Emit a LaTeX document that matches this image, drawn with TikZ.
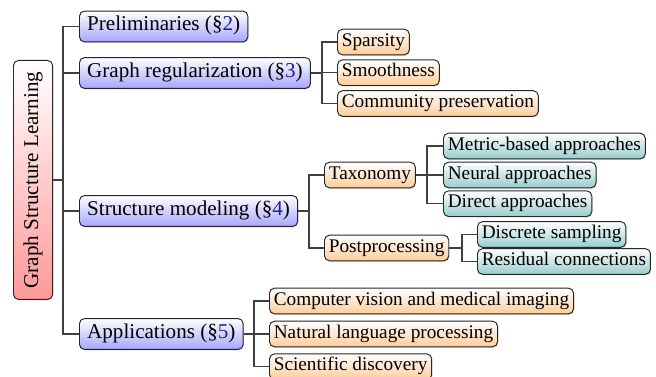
\documentclass[tikz,border=0pt]{standalone}
\usepackage{fontspec}
\setmainfont{Liberation Serif}
\usetikzlibrary{shadows}

\definecolor{linkblue}{rgb}{0.12,0.12,0.58}
\newcommand{\seclink}[1]{\textcolor{linkblue}{#1}}

\tikzset{
  box/.style={draw=black!85, line width=0.5pt, rounded corners=2.6pt,
    drop shadow={opacity=0.25, shadow xshift=0.4pt, shadow yshift=-0.6pt}},
  rootbox/.style={box, top color=white, bottom color=red!40, inner sep=0pt,
    minimum width=20.3pt, minimum height=124pt, font=\fontsize{10.95}{13}\selectfont},
  secbox/.style={box, top color=white, bottom color=blue!35, inner xsep=4pt, inner ysep=0pt,
    minimum height=16pt, text height=0.68em, text depth=0.24em, font=\fontsize{10.95}{13}\selectfont},
  subbox/.style={box, top color=white, bottom color=orange!40, inner xsep=2.25pt, inner ysep=0pt,
    minimum height=13.3pt, text height=0.68em, text depth=0.24em, font=\fontsize{10}{12}\selectfont},
  leafbox/.style={subbox, bottom color=teal!40},
  fork/.style={draw=black!75, line width=0.6pt},
}

\begin{document}
\begin{tikzpicture}[x=0.519pt,y=0.519pt,yscale=-1,xscale=1]
%set diagram left start at 0, and has height of 377
\useasboundingbox (0,0) rectangle (656,377);

% Root Node
\draw (13,60) node [anchor=north west][rootbox] (gsl) {\rotatebox{90}{Graph Structure Learning}};
% Section Nodes
\draw (79,26.5) node [anchor=west][secbox] (prel) {Preliminaries (\S\seclink{2})};
\draw (79,73) node [anchor=west][secbox] (greg) {Graph regularization (\S\seclink{3})};
\draw (79,211) node [anchor=west][secbox] (smod) {Structure modeling (\S\seclink{4})};
\draw (79,334) node [anchor=west][secbox] (appl) {Applications (\S\seclink{5})};
% Regularization Nodes
\draw (337,42) node [anchor=west][subbox] (spar) {Sparsity};
\draw (337,72.7) node [anchor=west][subbox] (smoo) {Smoothness};
\draw (337,103.5) node [anchor=west][subbox] (comm) {Community preservation};
% Modeling Nodes
\draw (324,175) node [anchor=west][subbox] (taxo) {Taxonomy};
\draw (324,248) node [anchor=west][subbox] (post) {Postprocessing};
\draw (443,146) node [anchor=west][leafbox] (metr) {Metric-based approaches};
\draw (443,175) node [anchor=west][leafbox] (neur) {Neural approaches};
\draw (443,203.7) node [anchor=west][leafbox] (dire) {Direct approaches};
\draw (477,234.5) node [anchor=west][leafbox] (disc) {Discrete sampling};
\draw (477,261.5) node [anchor=west][leafbox] (resi) {Residual connections};
% Application Nodes
\draw (269,301) node [anchor=west][subbox] (cvmi) {Computer vision and medical imaging};
\draw (269,334) node [anchor=west][subbox] (natl) {Natural language processing};
\draw (269,366.7) node [anchor=west][subbox] (scid) {Scientific discovery};

% Connection
\draw [fork] (gsl.east) -| ([xshift=-8.3pt]prel.west) -- (prel.west);
\draw [fork] (gsl.east) -| ([xshift=-8.3pt]greg.west) -- (greg.west);
\draw [fork] (gsl.east) -| ([xshift=-8.3pt]smod.west) -- (smod.west);
\draw [fork] (gsl.east) -| ([xshift=-8.3pt]appl.west) -- (appl.west);
% Connection
\draw [fork] (greg.east) -| ([xshift=-7.8pt]spar.west) -- (spar.west);
\draw [fork] (greg.east) -| ([xshift=-7.8pt]smoo.west) -- (smoo.west);
\draw [fork] (greg.east) -| ([xshift=-7.8pt]comm.west) -- (comm.west);
% Connection
\draw [fork] (smod.east) -| ([xshift=-7.8pt]taxo.west) -- (taxo.west);
\draw [fork] (smod.east) -| ([xshift=-7.8pt]post.west) -- (post.west);
% Connection
\draw [fork] (taxo.east) -| ([xshift=-8.3pt]metr.west) -- (metr.west);
\draw [fork] (taxo.east) -| ([xshift=-8.3pt]neur.west) -- (neur.west);
\draw [fork] (taxo.east) -| ([xshift=-8.3pt]dire.west) -- (dire.west);
% Connection
\draw [fork] (post.east) -| ([xshift=-7.8pt]disc.west) -- (disc.west);
\draw [fork] (post.east) -| ([xshift=-7.8pt]resi.west) -- (resi.west);
% Connection
\draw [fork] (appl.east) -| ([xshift=-7.8pt]cvmi.west) -- (cvmi.west);
\draw [fork] (appl.east) -| ([xshift=-7.8pt]natl.west) -- (natl.west);
\draw [fork] (appl.east) -| ([xshift=-7.8pt]scid.west) -- (scid.west);

\end{tikzpicture}
\end{document}
